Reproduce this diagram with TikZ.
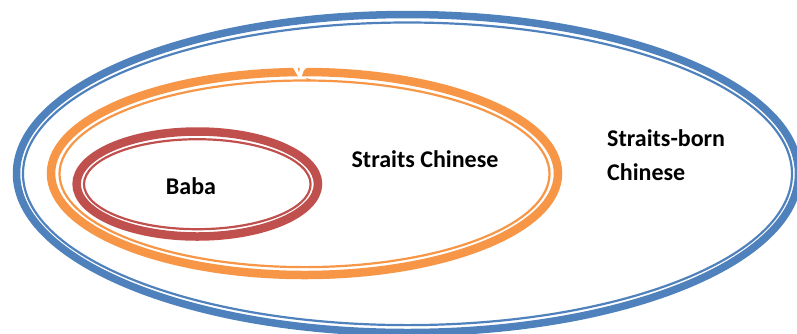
\documentclass[tikz,border=0pt]{standalone}
\usepackage{fontspec}
\setmainfont{Carlito}
\definecolor{ofblue}{HTML}{4F81BD}
\definecolor{oforange}{HTML}{F79646}
\definecolor{ofred}{HTML}{C0504D}
\begin{document}
\begin{tikzpicture}[x=1pt,y=-1pt,
  thickring/.style={line width=7.5pt},
  thinring/.style={line width=2.2pt},
  lbl/.style={font=\bfseries\fontsize{24}{29}\selectfont, inner sep=0pt}]
\useasboundingbox (0,0) rectangle (797,333);
\clip (0,0) rectangle (797,333);
% outer blue
\draw[thickring, ofblue] (407.5,173.5) ellipse [x radius=391, y radius=159];
\draw[thinring, ofblue] (407.5,173.8) ellipse [x radius=384.5, y radius=151.3];
% orange
\draw[thickring, oforange, line width=8.5pt] (304.5,173.5) ellipse [x radius=253.5, y radius=101.5];
\draw[thinring, oforange] (304.5,173.8) ellipse [x radius=245, y radius=93.3];
% notch in orange ring
\fill[white] (292,66) -- (297,66) -- (299,73) -- (300,66) -- (309,66) -- (304,70) -- (301,78) -- (299,78) -- cycle;
\fill[oforange] (306,78) -- (311,79.5) -- (308,82) -- cycle;
% red
\draw[thickring, ofred, line width=8.5pt] (197.3,184) ellipse [x radius=120.7, y radius=52.5];
\draw[thinring, ofred] (197.3,184.2) ellipse [x radius=113.3, y radius=45];
% labels
\node[lbl] (baba) at (191,186) {Baba};
\node[lbl] (sc) at (425,159) {Straits Chinese};
\node[lbl, anchor=west] (sb1) at (607,138) {Straits-born};
\node[lbl, anchor=west] (sb2) at (607,172) {Chinese};
\end{tikzpicture}
\end{document}
